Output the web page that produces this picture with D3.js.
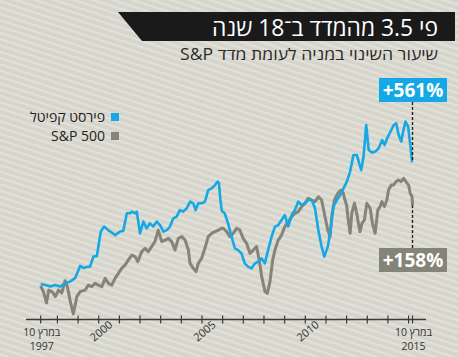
<!DOCTYPE html>
<html><head><meta charset="utf-8">
<script src="https://cdn.jsdelivr.net/npm/d3@7"></script>
<style>
html,body{margin:0;padding:0;background:#d8d7cd;}
svg{display:block;}
text{font-family:"Open Sans","DejaVu Sans",sans-serif;}
</style></head>
<body>
<script>
// ---- data (decimal years, % change) ----
const titleText = "פי 3.5 מהמדד ב־18 שנה";
const subtitleText = "שיעור השינוי במניה לעומת מדד S&P";
const seriesNames = ["פירסט קפיטל", "S&P 500"];
const endLabels = ["+561%", "+158%"];
const startLabel = ["10 במרץ", "1997"];
const endLabel = ["10 במרץ", "2015"];
const yearTicks = [1998,1999,2000,2001,2002,2003,2004,2005,2006,2007,2008,2009,2010,2011,2012,2013,2014,2015];
const yearLabels = [2000, 2005, 2010];
const startYear = 1997.19, endYear = 2015.19;

const blueYears = [1997.19,1997.41,1997.65,1997.89,1998.13,1998.37,1998.61,1998.86,1999.10,1999.26,1999.42,1999.58,1999.74,1999.91,1999.98,2000.10,2000.26,2000.45,2000.63,2000.79,2001.03,2001.19,2001.36,2001.52,2001.60,2001.76,2001.84,2002.00,2002.16,2002.32,2002.48,2002.64,2002.81,2002.97,2003.13,2003.29,2003.45,2003.61,2003.77,2003.93,2004.09,2004.26,2004.42,2004.58,2004.69,2004.82,2004.98,2005.14,2005.30,2005.47,2005.63,2005.76,2005.82,2005.89,2005.96,2006.10,2006.26,2006.43,2006.59,2006.75,2006.91,2007.07,2007.23,2007.40,2007.56,2007.72,2007.88,2008.04,2008.20,2008.37,2008.53,2008.69,2008.85,2009.01,2009.17,2009.34,2009.50,2009.66,2009.82,2009.98,2010.14,2010.31,2010.47,2010.63,2010.79,2010.92,2011.09,2011.20,2011.36,2011.53,2011.69,2011.85,2012.01,2012.17,2012.33,2012.50,2012.61,2012.71,2012.82,2012.95,2013.07,2013.23,2013.39,2013.55,2013.72,2013.84,2013.96,2014.12,2014.28,2014.40,2014.52,2014.65,2014.72,2014.85,2014.98,2015.09,2015.17,2015.19];
const blueValues = [0,-5,-12,-5,-12,3,11,28,83,74,78,80,126,129,172,241,264,248,236,225,241,245,325,325,333,325,333,233,287,256,279,264,287,271,241,248,264,302,310,340,333,348,379,371,340,371,371,379,432,440,455,471,464,386,336,325,279,218,164,156,141,95,80,72,95,103,118,95,156,218,264,271,294,317,264,317,340,379,363,371,386,386,348,248,172,126,172,233,356,386,409,440,471,517,593,593,555,524,586,731,616,604,609,624,662,639,670,700,731,739,685,655,693,747,724,632,563,561];

const grayYears = [1997.19,1997.34,1997.47,1997.58,1997.74,1997.90,1998.05,1998.21,1998.37,1998.48,1998.61,1998.77,1998.94,1999.10,1999.34,1999.50,1999.66,1999.82,1999.98,2000.15,2000.31,2000.47,2000.63,2000.79,2000.95,2001.11,2001.27,2001.43,2001.60,2001.76,2001.89,2002.08,2002.24,2002.40,2002.56,2002.72,2002.88,2003.05,2003.21,2003.37,2003.53,2003.69,2003.85,2004.02,2004.18,2004.34,2004.42,2004.58,2004.71,2004.82,2004.98,2005.14,2005.30,2005.47,2005.63,2005.79,2005.95,2006.03,2006.19,2006.35,2006.51,2006.67,2006.83,2006.99,2007.16,2007.32,2007.48,2007.64,2007.77,2007.89,2008.05,2008.16,2008.29,2008.42,2008.53,2008.69,2008.85,2009.01,2009.17,2009.34,2009.50,2009.66,2009.82,2009.98,2010.14,2010.31,2010.47,2010.63,2010.79,2010.92,2011.09,2011.20,2011.28,2011.41,2011.57,2011.73,2011.84,2011.92,2012.00,2012.08,2012.17,2012.25,2012.38,2012.49,2012.57,2012.65,2012.74,2012.86,2012.98,2013.14,2013.25,2013.38,2013.51,2013.62,2013.71,2013.83,2013.95,2014.03,2014.16,2014.27,2014.39,2014.51,2014.64,2014.76,2014.87,2015.00,2015.08,2015.17,2015.19];
const grayValues = [-8,-41,-87,-28,-35,-58,-28,-41,15,-12,-74,-138,-58,-35,-28,-5,-12,3,-5,-12,26,3,-5,26,49,72,87,110,133,126,103,149,164,149,172,195,248,195,202,210,195,156,210,218,202,156,95,72,57,95,118,164,218,233,241,248,256,256,241,218,233,256,248,210,187,141,156,172,110,34,-35,-43,11,110,156,202,225,264,286,309,325,333,356,371,394,386,379,401,386,325,248,218,309,386,417,432,417,386,363,294,233,325,371,325,279,241,279,294,371,348,279,233,340,356,379,356,386,432,455,455,471,478,471,486,471,455,417,401,363];

const blueColor = "#14a8e6", grayColor = "#858478";

// ---- drawing ----
const W = 458, H = 357;
const svg = d3.select("body").append("svg").attr("width", W).attr("height", H);

const defs = svg.append("defs");
const pat = defs.append("pattern").attr("id","stripes").attr("patternUnits","userSpaceOnUse")
  .attr("width", 6).attr("height", 6).attr("patternTransform","rotate(18)");
pat.append("rect").attr("width",6).attr("height",6).attr("fill","#d6d5cb");
pat.append("rect").attr("y",0).attr("width",6).attr("height",2.4).attr("fill","#e2e1d9");
svg.append("rect").attr("width",W).attr("height",H).attr("fill","url(#stripes)");

// title banner
svg.append("path").attr("d","M118,12 L455,12 L455,41 L142,41 Z").attr("fill","#1a1a1a");
svg.append("text").attr("x",438).attr("y",36).attr("text-anchor","start")
  .attr("direction","rtl").attr("fill","#fff").attr("font-size",23)
  .attr("textLength",226).attr("lengthAdjust","spacingAndGlyphs").text(titleText);
svg.append("text").attr("x",438).attr("y",60).attr("text-anchor","start")
  .attr("direction","rtl").attr("fill","#2a2a2a").attr("font-size",16)
  .attr("textLength",258).attr("lengthAdjust","spacingAndGlyphs").text(subtitleText);

// scales
const x = d3.scaleLinear().domain([startYear, endYear]).range([40.7, 412.5]);
const y = d3.scaleLinear().domain([0, 561]).range([284, 162]);

// legend
const legColors = [blueColor, grayColor];
seriesNames.forEach((n,i)=>{
  svg.append("rect").attr("x",111).attr("y",113+i*19).attr("width",8).attr("height",8).attr("fill",legColors[i]);
  svg.append("text").attr("x",105).attr("y",121.5+i*19).attr("text-anchor","start")
    .attr("direction","rtl").attr("fill","#222").attr("font-size",14).text(n);
});

// lines
const line = d3.line().x(d=>x(d[0])).y(d=>y(d[1]));
const grayData = grayYears.map((t,i)=>[t, grayValues[i]]);
const blueData = blueYears.map((t,i)=>[t, blueValues[i]]);
svg.append("path").datum(grayData).attr("d",line).attr("fill","none")
  .attr("stroke",grayColor).attr("stroke-width",3).attr("stroke-linejoin","round");
svg.append("path").datum(blueData).attr("d",line).attr("fill","none")
  .attr("stroke",blueColor).attr("stroke-width",2.6).attr("stroke-linejoin","round");

// end markers
const xe = x(endYear);
const blueEnd = y(blueValues[blueValues.length-1]);
const grayEnd = y(grayValues[grayValues.length-1]);
svg.append("line").attr("x1",xe).attr("x2",xe).attr("y1",102).attr("y2",blueEnd)
  .attr("stroke","#222").attr("stroke-width",1.4).attr("stroke-dasharray","3,2");
svg.append("line").attr("x1",xe).attr("x2",xe).attr("y1",grayEnd).attr("y2",248)
  .attr("stroke","#222").attr("stroke-width",1.4).attr("stroke-dasharray","3,2");
[[78, blueColor, endLabels[0]], [248, grayColor, endLabels[1]]].forEach(([ty,c,t])=>{
  svg.append("rect").attr("x",379).attr("y",ty).attr("width",68).attr("height",24).attr("fill",c);
  svg.append("text").attr("x",413).attr("y",ty+19).attr("text-anchor","middle")
    .attr("fill","#fff").attr("font-weight","bold").attr("font-size",19).text(t);
});

// axis
const axisY = 319.5;
const ax = svg.append("g").attr("transform",`translate(0,${axisY})`);
ax.append("line").attr("x1",26).attr("x2",426).attr("stroke","#3a3a3a").attr("stroke-width",1.4);
const tickVals = [startYear, ...yearTicks, endYear];
ax.selectAll("line.t").data(tickVals).join("line").attr("class","t")
  .attr("x1",d=>x(d)).attr("x2",d=>x(d)).attr("y1",-4).attr("y2",4)
  .attr("stroke","#3a3a3a").attr("stroke-width",1.2);
yearLabels.forEach(yr=>{
  const tx = x(yr)+5, ty = 334;
  svg.append("text").attr("transform",`translate(${tx},${ty}) rotate(-40)`)
    .attr("text-anchor","middle").attr("fill","#333").attr("font-size",11).text(yr);
});
[[x(startYear), startLabel],[x(endYear), endLabel]].forEach(([tx,lab])=>{
  svg.append("text").attr("x",tx+1).attr("y",335.5).attr("text-anchor","middle")
    .attr("fill","#333").attr("font-size",10.5).text(lab[0]);
  svg.append("text").attr("x",tx+1).attr("y",350).attr("text-anchor","middle")
    .attr("fill","#333").attr("font-size",10.5).text(lab[1]);
});
</script>
</body></html>
